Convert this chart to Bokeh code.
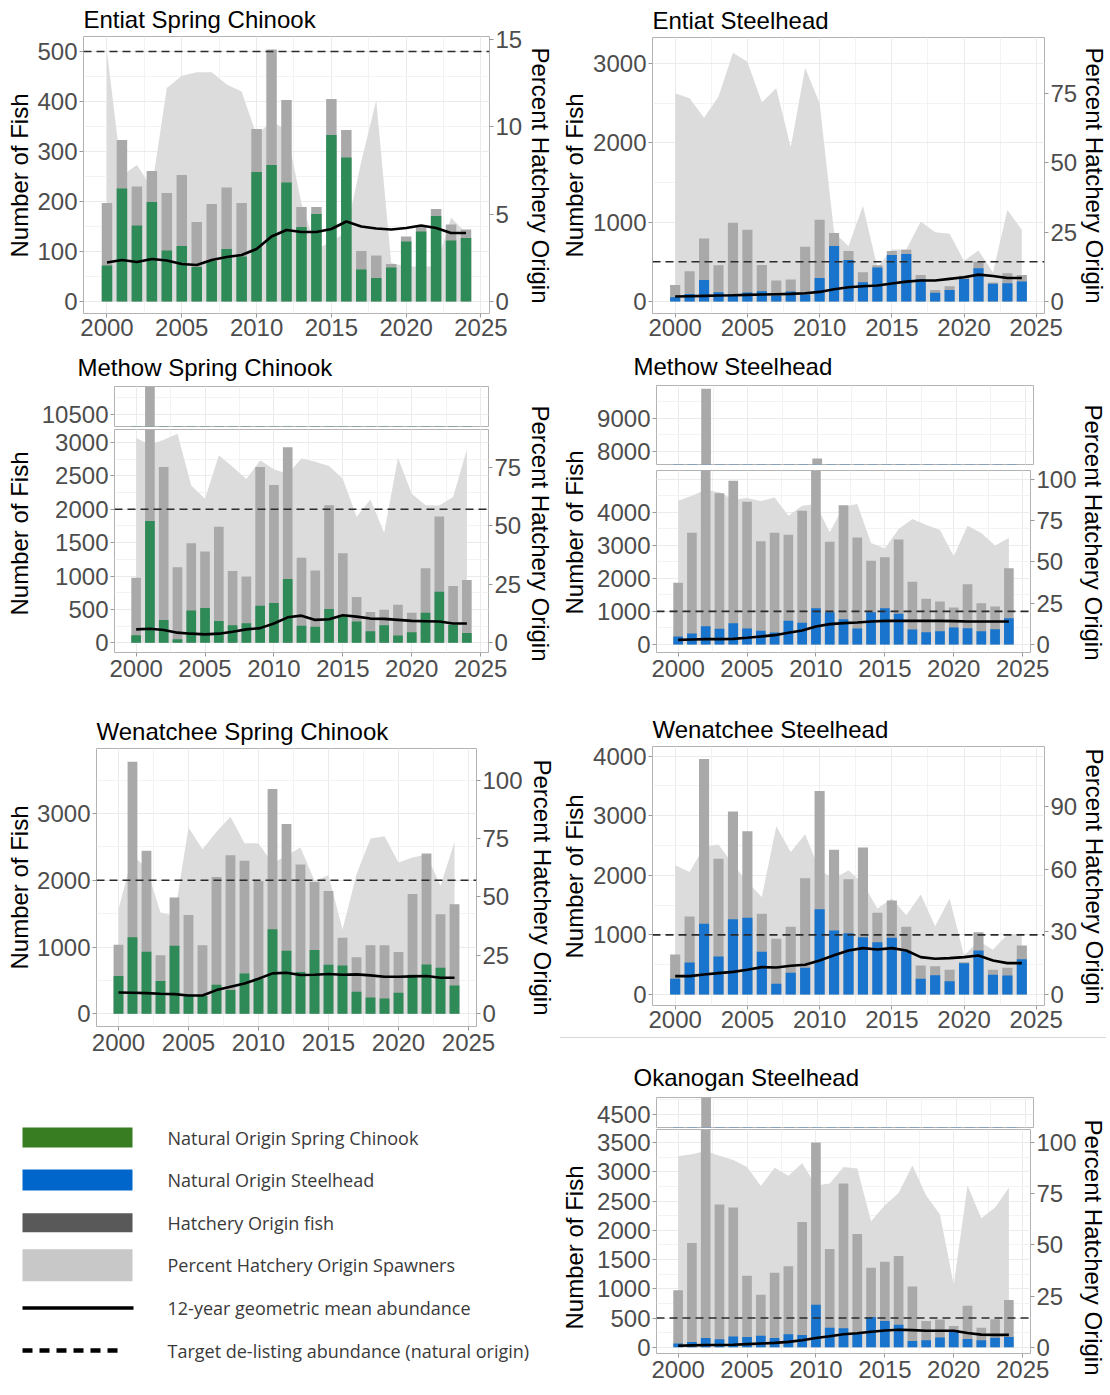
from math import pi
from bokeh.plotting import figure
from bokeh.models import Range1d, LinearAxis, SingleIntervalTicker, FixedTicker, Span, Title, Grid, Spacer
from bokeh.layouts import row, column
from bokeh.embed import file_html
from bokeh.resources import INLINE
from bokeh.core.properties import value

years = list(range(2000, 2025))

# ---------------- data ----------------
entiat_sc_total = [197, 323, 230, 261, 217, 253, 159, 195, 228, 197, 345, 504, 403, 189, 189, 405, 343, 101, 92, 75, 130, 149, 185, 154, 144]
entiat_sc_natural = [72, 226, 152, 199, 102, 111, 69, 81, 105, 90, 259, 273, 238, 149, 175, 333, 288, 64, 47, 68, 120, 140, 171, 122, 127]
entiat_sc_geomean = [78, 83, 79, 85, 82, 75, 73, 83, 89, 93, 105, 130, 143, 139, 139, 145, 160, 150, 146, 144, 147, 152, 147, 137, 137]
entiat_sc_pct = [14.3, 7.2, 7.8, 6.5, 12.2, 12.9, 13.1, 13.1, 12.4, 12.0, 9.5, 10.3, 9.8, 5.6, 3.0, 3.4, 4.0, 8.0, 11.5, 2.2, 2.0, 2.0, 2.0, 4.8, 3.9]

entiat_sh_total = [209, 381, 795, 456, 992, 904, 460, 264, 276, 690, 1029, 862, 636, 368, 456, 636, 653, 335, 146, 192, 326, 502, 240, 356, 335]
entiat_sh_natural = [54, 96, 272, 117, 96, 113, 130, 75, 126, 88, 297, 699, 523, 243, 427, 586, 598, 280, 109, 146, 285, 418, 225, 230, 251]
entiat_sh_geomean = [63, 67, 71, 75, 79, 84, 88, 92, 96, 105, 121, 155, 180, 192, 201, 226, 251, 264, 264, 285, 305, 339, 322, 297, 297]
entiat_sh_pct = [75.0, 73.2, 66.1, 73.8, 89.5, 86.3, 71.7, 76.8, 55.5, 84.1, 71.4, 25.0, 19.9, 34.5, 12.2, 18.7, 18.7, 28.8, 24.9, 24.4, 14.6, 18.4, 10.4, 32.9, 25.8]

methow_sc_total = [975, 11100, 2632, 1132, 1490, 1368, 1740, 1074, 995, 2632, 2363, 2931, 1275, 1083, 2059, 1343, 686, 461, 495, 569, 451, 1118, 1892, 850, 941]
methow_sc_natural = [113, 1824, 343, 54, 485, 520, 328, 265, 294, 554, 598, 956, 255, 240, 505, 410, 319, 172, 265, 108, 157, 451, 765, 270, 147]
methow_sc_geomean = [201, 211, 191, 152, 137, 127, 137, 167, 201, 220, 289, 382, 407, 343, 353, 412, 392, 363, 358, 343, 328, 324, 319, 289, 289]
methow_sc_pct = [87.6, 84.8, 86.9, 89.5, 67.3, 61.7, 80.3, 75.3, 70.1, 78.1, 74.3, 72.2, 78.9, 77.5, 75.7, 70.1, 54.0, 61.3, 47.1, 79.2, 63.8, 58.9, 58.8, 62.4, 82.7]

methow_sh_total = [1864, 3375, 9890, 4574, 4947, 4312, 3123, 3375, 3315, 4040, 7790, 3103, 4212, 3234, 2529, 2640, 3174, 1894, 1380, 1300, 1118, 1824, 1249, 1149, 2307]
methow_sh_natural = [242, 332, 554, 474, 645, 484, 413, 363, 715, 655, 1098, 977, 766, 484, 977, 1098, 927, 453, 373, 403, 514, 494, 403, 463, 796]
methow_sh_geomean = [141, 151, 161, 161, 171, 202, 242, 282, 353, 423, 544, 615, 645, 665, 695, 715, 715, 715, 715, 715, 705, 695, 695, 695, 695]
methow_sh_pct = [86.9, 89.9, 93.6, 92.0, 87.5, 88.5, 86.7, 88.9, 77.9, 83.9, 84.9, 67.8, 83.5, 84.9, 61.4, 58.1, 69.8, 75.9, 72.2, 69.2, 53.3, 71.8, 67.4, 59.8, 64.4]
methow_sh_lower_ticks = [0, 1000, 2000, 3000, 4000]

wenatchee_sc_total = [1035, 3775, 2440, 875, 1740, 1480, 1025, 2050, 2375, 2290, 1990, 3365, 2840, 2235, 1975, 1840, 1140, 845, 1025, 1025, 925, 1795, 2400, 1490, 1640]
wenatchee_sc_natural = [565, 1145, 930, 490, 1020, 290, 265, 435, 355, 605, 525, 1265, 945, 625, 955, 735, 725, 330, 245, 230, 315, 585, 740, 690, 425]
wenatchee_sc_geomean = [320, 315, 310, 300, 295, 275, 275, 355, 405, 455, 525, 605, 615, 580, 585, 595, 585, 590, 575, 555, 555, 560, 565, 540, 540]
wenatchee_sc_pct = [44.7, 67.6, 62.6, 43.3, 41.9, 79.7, 70.4, 77.9, 84.3, 73.0, 72.9, 64.4, 67.6, 71.1, 56.9, 59.3, 36.1, 59.7, 75.0, 75.9, 64.7, 66.9, 68.1, 54.7, 73.6]

wenatchee_sh_total = [671, 1309, 3955, 2277, 3071, 2741, 1354, 934, 1136, 1952, 3418, 2428, 1936, 2467, 1371, 1578, 1136, 487, 476, 414, 543, 1046, 414, 448, 822]
wenatchee_sh_natural = [263, 537, 1186, 638, 1264, 1287, 716, 179, 364, 448, 1432, 1074, 1029, 962, 878, 951, 727, 263, 324, 224, 526, 738, 330, 319, 593]
wenatchee_sh_geomean = [308, 308, 336, 358, 380, 414, 459, 453, 481, 498, 571, 660, 738, 778, 755, 778, 738, 627, 599, 610, 627, 655, 571, 526, 526]
wenatchee_sh_pct = [62.0, 58.8, 70.8, 71.9, 62.3, 54.0, 46.8, 80.7, 68.4, 76.9, 59.6, 55.6, 59.6, 53.2, 41.2, 46.0, 38.0, 47.9, 32.7, 46.0, 18.7, 25.6, 21.5, 28.8, 29.1]

okanogan_sh_total = [973, 1783, 4900, 2440, 2391, 1223, 897, 1272, 1386, 2141, 3500, 1679, 2799, 1935, 1359, 1462, 1560, 1038, 451, 473, 364, 712, 332, 480, 810]
okanogan_sh_natural = [65, 92, 158, 136, 185, 174, 196, 158, 223, 212, 728, 332, 326, 228, 516, 451, 386, 109, 120, 168, 266, 141, 120, 163, 174]
okanogan_sh_geomean = [27, 33, 38, 38, 43, 54, 65, 76, 92, 120, 158, 190, 223, 239, 266, 288, 299, 293, 283, 283, 283, 245, 217, 212, 212]
okanogan_sh_pct = [93.3, 94.3, 95.8, 93.5, 91.5, 88.0, 78.7, 87.7, 83.7, 89.9, 79.0, 80.0, 88.0, 87.3, 61.6, 69.4, 75.3, 88.8, 74.1, 64.8, 30.6, 79.0, 63.0, 68.2, 77.9]

legend_labels = ["Natural Origin Spring Chinook", "Natural Origin Steelhead", "Hatchery Origin fish",
                 "Percent Hatchery Origin Spawners", "12-year geometric mean abundance",
                 "Target de-listing abundance (natural origin)"]

Y_TITLE = "Number of Fish"
R_TITLE = "Percent Hatchery Origin"

# ---------------- style ----------------
FONT = "Liberation Sans"
GREEN = "#2E8B57"
BLUE = "#1874CD"
HATCH = "#A9A9A9"
AREA = "#DCDCDC"
OUTLINE = "#B3B3B3"
XLO, XHI = 1998.43, 2025.57


def strip_grids(p):
    p.center = [c for c in p.center if not isinstance(c, Grid)]


def style_axis(ax):
    ax.major_label_text_font = FONT
    ax.major_label_text_font_size = "24px"
    ax.major_label_text_color = "#4D4D4D"
    ax.major_tick_line_color = "#999999"
    ax.major_tick_out = 4
    ax.major_tick_in = 0
    ax.minor_tick_line_color = None
    ax.axis_line_color = None
    ax.major_label_standoff = 2


def base(w, h, bl, br, bt, bb, yr, y_int):
    p = figure(width=w, height=h, x_range=Range1d(XLO, XHI), y_range=Range1d(*yr), title=None,
               output_backend="svg", toolbar_location=None,
               x_axis_location=None, y_axis_location=None,
               min_border_left=bl, min_border_right=br, min_border_top=bt, min_border_bottom=bb)
    p.frame_align = False
    strip_grids(p)
    p.background_fill_color = "white"
    p.border_fill_color = "white"
    p.outline_line_color = OUTLINE
    p.outline_line_width = 1
    xt = SingleIntervalTicker(interval=5, num_minor_ticks=2)
    yt = SingleIntervalTicker(interval=y_int, num_minor_ticks=2)
    for dim, tk in ((0, xt), (1, yt)):
        p.add_layout(Grid(dimension=dim, ticker=tk, grid_line_color="#EBEBEB", grid_line_width=1,
                          minor_grid_line_color="#F3F3F3", minor_grid_line_width=1))
    return p, xt, yt


def add_title(p, text, offset, standoff):
    t = Title(text=text, align="left", offset=offset, standoff=standoff, text_font=FONT,
              text_font_size="24px", text_font_style="normal", text_color="black")
    p.add_layout(t, "above")


def add_bars(p, total, natural, color):
    p.vbar(x=years, top=total, bottom=0, width=0.7, fill_color=HATCH, line_color=None)
    p.vbar(x=years, top=natural, bottom=0, width=0.7, fill_color=color, line_color=None)


def main_panel(w, h, bl, br, bt, bb, yr, y_int, factor, pct_int, total, natural, pct, geo, target,
               color, title=None, title_offset=0, title_standoff=8, x_standoff=3, axis_ticks=None):
    p, xt, yt = base(w, h, bl, br, bt, bb, yr, y_int)
    xa = LinearAxis(ticker=xt)
    style_axis(xa)
    xa.major_label_standoff = x_standoff
    p.add_layout(xa, "below")
    ya = LinearAxis(ticker=FixedTicker(ticks=axis_ticks) if axis_ticks else yt)
    style_axis(ya)
    p.add_layout(ya, "left")
    p.extra_y_ranges = {"pct": Range1d(yr[0] / factor, yr[1] / factor)}
    ra = LinearAxis(y_range_name="pct", ticker=SingleIntervalTicker(interval=pct_int))
    style_axis(ra)
    p.add_layout(ra, "right")
    p.varea(x=years, y1=[0] * len(years), y2=pct, y_range_name="pct", fill_color=AREA, fill_alpha=1.0)
    add_bars(p, total, natural, color)
    p.line(years, geo, line_color="black", line_width=2.6)
    p.add_layout(Span(location=target, dimension="width", line_color="#2B2B2B",
                      line_dash="8 5", line_width=1.6))
    if title:
        add_title(p, title, title_offset, title_standoff)
    return p


def upper_panel(w, h, bl, br, bt, bb, yr, y_int, total, natural, color, title, title_offset, title_standoff):
    p, xt, yt = base(w, h, bl, br, bt, bb, yr, y_int)
    ya = LinearAxis(ticker=yt)
    style_axis(ya)
    p.add_layout(ya, "left")
    add_bars(p, total, natural, color)
    add_title(p, title, title_offset, title_standoff)
    return p


def label_strip(w, h, x, y, text, angle):
    s = figure(width=w, height=h, x_range=Range1d(0, w), y_range=Range1d(h, 0), title=None,
               output_backend="svg", toolbar_location=None, x_axis_location=None, y_axis_location=None,
               min_border=0)
    s.frame_align = False
    strip_grids(s)
    s.outline_line_color = None
    s.background_fill_color = "white"
    s.border_fill_color = "white"
    s.text(x=[x], y=[y], text=[text], angle=angle, text_font=value(FONT), text_font_size="24px",
           text_color="black", text_align="center", text_baseline="middle")
    return s


def block(inner, h, lw, lx, rw, rx, cy):
    return row(label_strip(lw, h, lx, cy, Y_TITLE, pi / 2), inner,
               label_strip(rw, h, rx, cy, R_TITLE, -pi / 2))


# ---------------- left column (page x 4 .. 560) ----------------
f1 = main_panel(491, 345, 49, 33, 36, 32, (-24, 530), 100, 35, 5,
                entiat_sc_total, entiat_sc_natural, entiat_sc_pct, entiat_sc_geomean, 500, GREEN,
                title="Entiat Spring Chinook", title_offset=0, title_standoff=7, x_standoff=1)
block1 = block(f1, 345, 30, 15, 35, 15, 175)

f3u = upper_panel(491, 82, 80, 37, 39, 1, (10309, 10926), 500,
                  methow_sc_total, methow_sc_natural, GREEN, "Methow Spring Chinook", -37, 12)
f3l = main_panel(491, 263, 80, 37, 2, 38, (-145, 3195), 500, 35, 25,
                 methow_sc_total, methow_sc_natural, methow_sc_pct, methow_sc_geomean, 2000, GREEN)
block3 = block(column(f3u, f3l), 345, 30, 15, 35, 15, 188)

f5 = main_panel(491, 376, 62, 47, 58, 40, (-190, 3972), 1000, 35, 25,
                wenatchee_sc_total, wenatchee_sc_natural, wenatchee_sc_pct, wenatchee_sc_geomean, 2000, GREEN,
                title="Wenatchee Spring Chinook", title_offset=0, title_standoff=8)
block5 = block(f5, 376, 30, 15, 35, 17, 197)

# legend (page x 4 .. 560, y 1066 .. 1387)
lg = figure(width=556, height=321, x_range=Range1d(0, 556), y_range=Range1d(321, 0), title=None,
            output_backend="svg", toolbar_location=None, x_axis_location=None, y_axis_location=None,
            min_border=0)
lg.frame_align = False
strip_grids(lg)
lg.outline_line_color = None
lg.background_fill_color = "white"
lg.border_fill_color = "white"
sw_colors = ["#387D22", "#0066CC", "#595959", "#C8C8C8"]
sw_heights = [20, 21, 19, 32]
y0, dy = 71, 42.6
ys = [y0 + i * dy for i in range(len(legend_labels))]
lg.rect(x=[73] * 4, y=ys[:4], width=110, height=sw_heights, fill_color=sw_colors, line_color=None)
lg.line(x=[18, 129], y=[ys[4], ys[4]], line_color="black", line_width=3.5)
lg.line(x=[18, 120], y=[ys[5], ys[5]], line_color="black", line_width=4.5, line_dash="10 7")
lg.text(x=[163] * len(legend_labels), y=ys, text=legend_labels, text_font=value("Open Sans"),
        text_font_size="18px", text_color="#3A3A3A", text_baseline="middle", text_align="left")

left_col = column(block1, block3, block5, lg)

# ---------------- right column (page x 560 .. 1108) ----------------
f2 = main_panel(490, 345, 62, 33, 36, 32, (-151, 3326), 1000, 35, 25,
                entiat_sh_total, entiat_sh_natural, entiat_sh_pct, entiat_sh_geomean, 500, BLUE,
                title="Entiat Steelhead", title_offset=0, title_standoff=8, x_standoff=1)
block2 = block(f2, 345, 30, 14, 28, 14, 175)

f4u = upper_panel(489, 120, 66, 46, 38, 1, (7609, 9990), 1000,
                  methow_sh_total, methow_sh_natural, BLUE, "Methow Steelhead", -23, 11)
f4l = main_panel(489, 225, 66, 46, 5, 38, (-242, 5260), 1000, 50, 25,
                 methow_sh_total, methow_sh_natural, methow_sh_pct, methow_sh_geomean, 1000, BLUE,
                 axis_ticks=methow_sh_lower_ticks)
block4 = block(column(f4u, f4l), 345, 30, 14, 29, 14, 187)

f6 = main_panel(490, 347, 62, 33, 56, 32, (-185, 4163), 1000, 35, 30,
                wenatchee_sh_total, wenatchee_sh_natural, wenatchee_sh_pct, wenatchee_sh_geomean, 1000, BLUE,
                title="Wenatchee Steelhead", title_offset=0, title_standoff=8, x_standoff=1)
block6 = block(f6, 347, 30, 14, 28, 14, 186)

separator = Spacer(width=546, height=1, styles={"background-color": "#D6D6D6"})
sep_gap = Spacer(width=548, height=8)

f7u = upper_panel(489, 82, 66, 46, 51, 1, (4288, 4777), 500,
                  okanogan_sh_total, okanogan_sh_natural, BLUE, "Okanogan Steelhead", -23, 14)
f7l = main_panel(489, 259, 66, 46, 1, 34, (-106, 3722), 500, 35, 25,
                 okanogan_sh_total, okanogan_sh_natural, okanogan_sh_pct, okanogan_sh_geomean, 500, BLUE)
block7 = block(column(f7u, f7l), 341, 30, 14, 29, 14, 201)

right_col = column(block2, block4, block6, separator, sep_gap, block7)

layout = row(Spacer(width=4, height=1387), left_col, right_col)

with open("out.html", "w") as fh:
    fh.write(file_html(layout, INLINE, title="Spawner abundance"))
